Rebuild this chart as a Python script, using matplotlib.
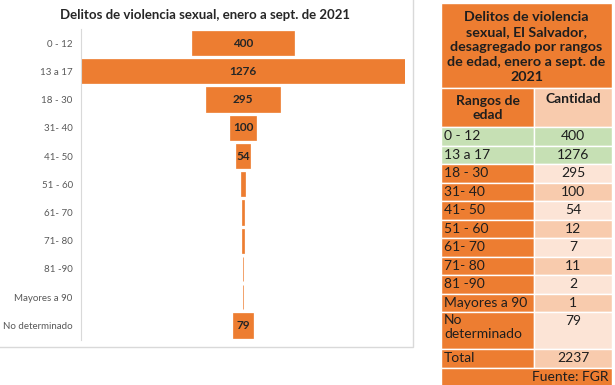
import matplotlib
matplotlib.use("Agg")
import matplotlib.pyplot as plt
from matplotlib.patches import Rectangle

categories = ["0 - 12", "13 a 17", "18 - 30", "31- 40", "41- 50", "51 - 60",
              "61- 70", "71- 80", "81 -90", "Mayores a 90", "No determinado"]
values = [400, 1276, 295, 100, 54, 12, 7, 11, 2, 1, 79]
table_labels = ["0 - 12", "13 a 17", "18 - 30", "31- 40", "41- 50", "51 - 60",
                "61- 70", "71- 80", "81 -90", "Mayores a 90", "No\ndeterminado"]
total = 2237

chart_title = "Delitos de violencia sexual, enero a sept. de 2021"
table_title = "Delitos de violencia\nsexual, El Salvador,\ndesagregado por rangos\nde edad, enero a sept. de\n2021"

ORANGE = "#ED7D31"
PEACH_L = "#FCE4D6"
PEACH_D = "#F8CBAD"
GREEN = "#C6E0B4"
TXT = "#1E1E1E"
FONT = ["Lato", "DejaVu Sans"]
plt.rcParams['font.family'] = FONT

W, H = 615, 385
fig = plt.figure(figsize=(W / 100, H / 100), dpi=100)
fig.patch.set_facecolor("white")

# overlay axes in pixel coordinates
ov = fig.add_axes([0, 0, 1, 1])
ov.set_xlim(0, W)
ov.set_ylim(H, 0)
ov.axis("off")

# chart frame
ov.add_patch(Rectangle((-2, -2), 415, 349, fill=False, edgecolor="#D9D9D9", lw=1))
ov.text(205, 15, chart_title, ha="center", va="center", fontsize=9.5,
        fontweight="bold", color="#262626")

# funnel chart axes
x_left, x_right = 81, 405
y_top, y_bot = 29, 339.5
ax = fig.add_axes([x_left / W, 1 - y_bot / H, (x_right - x_left) / W, (y_bot - y_top) / H])
ax.patch.set_alpha(0)
mx = max(values)
ax.set_xlim(-mx / 2, mx / 2)
ax.set_ylim(len(values) - 0.5, -0.5)
ypos = list(range(len(values)))
lefts = [-v / 2 for v in values]
ax.barh(ypos, values, left=lefts, height=0.86, color=ORANGE, edgecolor=ORANGE, lw=0.5)
for y, v in zip(ypos, values):
    if v >= 50:
        ax.text(0, y, str(v), ha="center", va="center", fontsize=8.5,
                fontweight="bold", color="#262626")
ax.set_yticks(ypos)
ax.set_yticklabels(categories, fontsize=7, color="#595959")
ax.tick_params(axis="y", length=0, pad=6)
ax.set_xticks([])
for s in ["top", "right", "bottom"]:
    ax.spines[s].set_visible(False)
ax.spines["left"].set_color("#D9D9D9")
ax.spines["left"].set_linewidth(0.8)

# table
x0, xm, x1 = 441, 534, 612
lw = 1.0
FS = 10
def cell(xa, ya, xb, yb, color):
    ov.add_patch(Rectangle((xa, ya), xb - xa, yb - ya, facecolor=color,
                           edgecolor="white", lw=lw))

cell(x0, 3, x1, 88, ORANGE)
ov.text((x0 + x1) / 2, 47, table_title, ha="center", va="center", fontsize=10.3,
        fontweight="bold", color=TXT, linespacing=1.3)
cell(x0, 88, xm, 127, ORANGE)
cell(xm, 88, x1, 127, PEACH_D)
ov.text((x0 + xm) / 2, 108, "Rangos de\nedad", ha="center", va="center", fontsize=10,
        fontweight="bold", color=TXT, linespacing=1.25)
ov.text((xm + x1) / 2, 99, "Cantidad", ha="center", va="center", fontsize=10,
        fontweight="bold", color=TXT)

rh = 18.5
y = 127
for i, (lab, v) in enumerate(zip(table_labels, values)):
    h = rh * 2 if "\n" in lab else rh
    if i < 2:
        lc, rc = GREEN, GREEN
    else:
        lc = ORANGE
        rc = PEACH_L if (i % 2 == 0) else PEACH_D
    cell(x0, y, xm, y + h, lc)
    cell(xm, y, x1, y + h, rc)
    if "\n" in lab:
        ov.text(x0 + 3, y + 1.5, lab, ha="left", va="top", fontsize=FS,
                color=TXT, linespacing=1.25)
        ov.text((xm + x1) / 2, y + 9, str(v), ha="center", va="center", fontsize=FS,
                color=TXT)
    else:
        ov.text(x0 + 3, y + h / 2, lab, ha="left", va="center", fontsize=FS,
                color=TXT)
        ov.text((xm + x1) / 2, y + h / 2, str(v), ha="center", va="center", fontsize=FS,
                color=TXT)
    y += h

cell(x0, y, xm, y + rh, ORANGE)
cell(xm, y, x1, y + rh, PEACH_D)
ov.text(x0 + 3, y + rh / 2, "Total", ha="left", va="center", fontsize=FS, color=TXT)
ov.text((xm + x1) / 2, y + rh / 2, str(total), ha="center", va="center", fontsize=FS,
        color=TXT)
y += rh
cell(x0, y, x1, y + rh + 2, ORANGE)
ov.text(x1 - 4, y + rh / 2, "Fuente: FGR", ha="right", va="center", fontsize=FS,
        color=TXT)

fig.savefig("out.png", dpi=100, facecolor="white")
